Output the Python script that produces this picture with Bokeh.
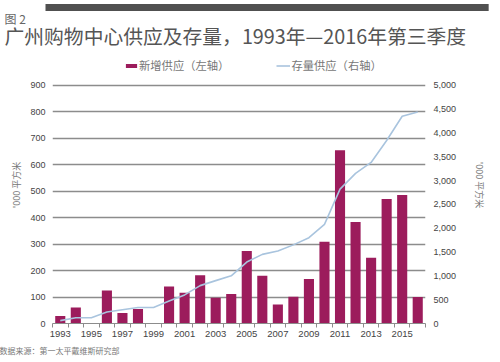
from bokeh.plotting import figure
from bokeh.models import (Range1d, LinearAxis, FixedTicker, NumeralTickFormatter,
                          Legend, LegendItem, Title)
from bokeh.embed import file_html
from bokeh.resources import INLINE

# ---- data ----
years = list(range(1993, 2017))
new_supply = [28, 60, 0, 125, 40, 55, 0, 140, 116, 182, 97, 111, 274, 180, 72, 101,
              168, 309, 654, 383, 248, 470, 485, 100]          # '000 sqm, left axis
stock = [60, 120, 120, 240, 288, 336, 336, 470, 600, 795, 900, 1000, 1290, 1450,
         1520, 1650, 1800, 2080, 2820, 3150, 3380, 3840, 4350, 4440]  # '000 sqm, right axis
left_ticks = list(range(0, 1000, 100))
right_ticks = list(range(0, 5001, 500))
x_label_years = list(range(1993, 2017, 2))

title_text = "广州购物中心供应及存量，1993年—2016年第三季度"
fig_no = "图 2"
legend_bar = "新增供应（左轴）"
legend_line = "存量供应（右轴）"
axis_title = "'000 平方米"
source_text = "数据来源：第一太平戴维斯研究部"

BAR = "#9c1c5c"
LINE = "#a9c4de"
GRID = "#8c8c8c"
DARK = "#505050"
CJK = "Noto Sans CJK SC"
NUM = "Liberation Sans"

# layout (pixels inside the figure)
W, H = 500, 362
FRAME_TOP = 46.3     # where the plotting frame is expected to start
GRID_TOP = 85        # where the 900 / 5000 line sits
FRAME_BOTTOM = 323
span = FRAME_BOTTOM - GRID_TOP
ymax_left = 900 * (FRAME_BOTTOM - FRAME_TOP) / span
ymax_right = 5000 * (FRAME_BOTTOM - FRAME_TOP) / span

p = figure(width=W, height=H, x_range=Range1d(1992.5, 2016.5),
           y_range=Range1d(0, ymax_left),
           output_backend="svg", toolbar_location=None,
           min_border_left=52, min_border_right=75, min_border_top=0,
           min_border_bottom=H - FRAME_BOTTOM)
p.outline_line_color = None
p.extra_y_ranges = {"stock": Range1d(0, ymax_right)}
p.xgrid.visible = False
p.ygrid.ticker = FixedTicker(ticks=left_ticks[1:])
p.ygrid.grid_line_color = GRID
p.ygrid.grid_line_width = 1.4

bars = p.vbar(x=years, top=new_supply, width=0.65, color=BAR, line_color=None)
line = p.line(x=years, y=stock, y_range_name="stock", color=LINE, line_width=1.6)

# x axis
xa = p.xaxis[0]
xa.ticker = FixedTicker(ticks=x_label_years, minor_ticks=[y - 0.5 for y in years] + [2016.5])
xa.major_label_overrides = {y: str(y) for y in x_label_years}
xa.major_tick_line_color = None
xa.major_tick_out = 4
xa.major_tick_in = 0
xa.minor_tick_line_color = GRID
xa.minor_tick_out = 4
xa.minor_tick_in = 0
xa.axis_line_color = GRID
xa.axis_line_width = 1.2
xa.major_label_standoff = 3
xa.major_label_text_font = NUM
xa.major_label_text_font_size = "9.5px"
xa.major_label_text_color = "#444444"

# left axis
ya = p.yaxis[0]
ya.ticker = FixedTicker(ticks=left_ticks)
ya.axis_line_color = None
ya.major_tick_line_color = None
ya.minor_tick_line_color = None
ya.major_tick_out = 0
ya.major_tick_in = 0
ya.major_label_standoff = 7
ya.major_label_text_font = NUM
ya.major_label_text_font_size = "9px"
ya.major_label_text_color = "#444444"
ya.axis_label = axis_title
ya.axis_label_standoff = 4
ya.axis_label_text_font = CJK
ya.axis_label_text_font_size = "9px"
ya.axis_label_text_font_style = "normal"
ya.axis_label_text_color = "#777777"

# right axis
ra = LinearAxis(y_range_name="stock", ticker=FixedTicker(ticks=right_ticks),
                formatter=NumeralTickFormatter(format="0,0"))
ra.axis_line_color = None
ra.major_tick_line_color = None
ra.minor_tick_line_color = None
ra.major_tick_out = 0
ra.major_tick_in = 0
ra.major_label_standoff = 8
ra.major_label_text_font = NUM
ra.major_label_text_font_size = "9px"
ra.major_label_text_color = "#444444"
ra.axis_label = axis_title
ra.axis_label_standoff = 14
ra.axis_label_text_font = CJK
ra.axis_label_text_font_size = "9px"
ra.axis_label_text_font_style = "normal"
ra.axis_label_text_color = "#777777"
p.add_layout(ra, "right")

# series legend inside the frame, above the 900 line
leg = Legend(items=[LegendItem(label=legend_bar, renderers=[bars]),
                    LegendItem(label=legend_line, renderers=[line])],
             orientation="horizontal", location=(72, FRAME_BOTTOM - 73),
             glyph_width=14, glyph_height=5, label_standoff=1, spacing=47,
             label_text_font=CJK, label_text_font_size="11.3px", label_text_color="#777777",
             label_height=5, label_width=10,
             padding=0, margin=0, border_line_color=None, background_fill_alpha=0)
p.add_layout(leg)

# main title and figure number
p.add_layout(Title(text=title_text, align="left", offset=-48, standoff=-6,
                   text_font=CJK, text_font_size="19.8px", text_font_style="normal",
                   text_color="#555555"), "above")
p.add_layout(Title(text=fig_no, align="left", offset=-48, standoff=-10,
                   text_font=CJK, text_font_size="12px", text_font_style="normal",
                   text_color="#666666"), "above")

# dark band along the top edge (filled title box)
p.add_layout(Title(text="\u3000" * 87, align="left", offset=-7, standoff=3,
                   text_font=CJK, text_font_size="5.1px", text_color=DARK,
                   background_fill_color=DARK), "above")

# source note
p.add_layout(Title(text=source_text, align="left", offset=-53, standoff=7,
                   text_font=CJK, text_font_size="8px", text_font_style="normal",
                   text_color="#777777"), "below")

open("out.html", "w").write(file_html(p, INLINE))
